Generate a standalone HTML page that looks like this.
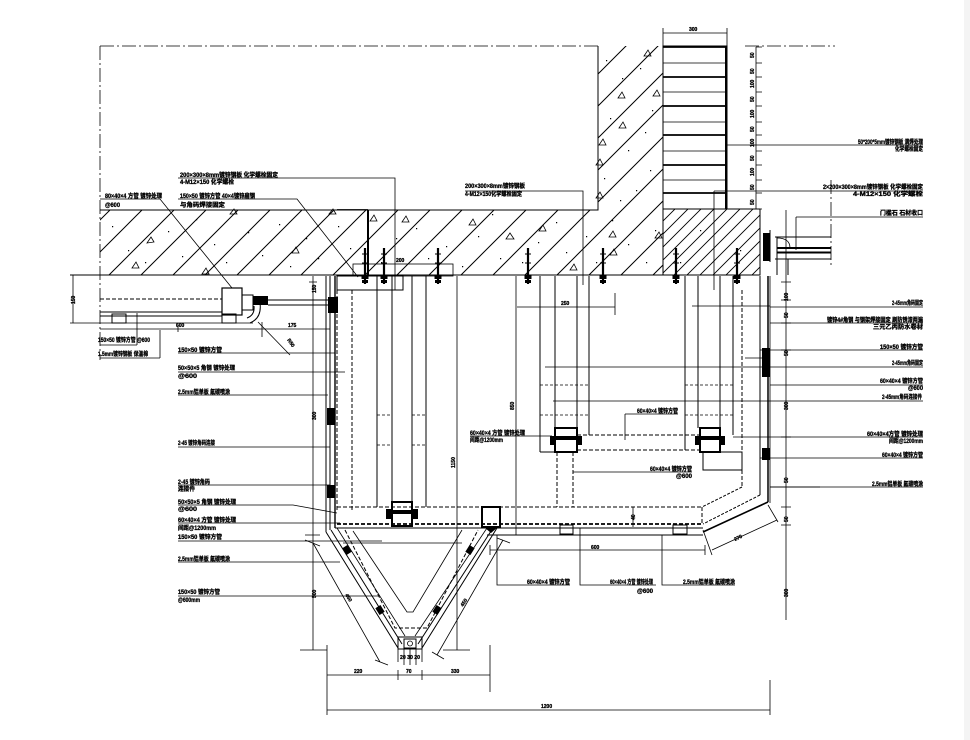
<!DOCTYPE html>
<html><head><meta charset="utf-8">
<style>
html,body{margin:0;padding:0;background:#fff;}
svg{display:block;}
text{font-family:"Liberation Sans","Noto Sans CJK SC",sans-serif;font-size:6px;font-weight:bold;fill:#000;stroke:#000;stroke-width:0.3px;}
.d{font-size:5px;}
</style></head><body>
<svg width="970" height="740" viewBox="0 0 970 740" xmlns="http://www.w3.org/2000/svg">
<defs>
<pattern id="h1" patternUnits="userSpaceOnUse" width="32" height="32"><path d="M-4 4 L4 -4 M0 32 L32 0 M28 36 L36 28" stroke="#000" stroke-width="1" fill="none"/></pattern>
<pattern id="h2" patternUnits="userSpaceOnUse" width="13" height="13"><path d="M-2 2 L2 -2 M0 13 L13 0 M11 15 L15 11" stroke="#000" stroke-width="0.9" fill="none"/></pattern>
<g id="b"><path d="M0 -28 V8" stroke="#000" stroke-width="2.2" fill="none"/><path d="M-3 -22 H3 M-3 -13 H3" stroke="#000" stroke-width="1" fill="none"/><rect x="-3.5" y="-1" width="7" height="4" fill="#000"/><rect x="-3" y="4" width="6" height="3" fill="#000"/></g>
</defs>
<rect x="964" y="0" width="6" height="740" fill="#f4f4f4"/>

<!-- concrete -->
<rect x="100" y="210" width="563" height="65" fill="url(#h1)"/>
<rect x="598" y="46" width="65" height="164" fill="url(#h1)"/>
<rect x="663" y="209" width="97" height="66" fill="url(#h2)"/>
<g fill="none" stroke="#000" stroke-width="1">
<path d="M100 46 H598 M745 46 H835 M100 46 V360 M831 180 V265" stroke-dasharray="14 3 2 3" stroke-width="0.8"/>
<path d="M598 46 V210 H100 M70 275 H760 V209 H663 M663 46 V275"/>
<!-- bricks -->
<rect x="663" y="46" width="64" height="163"/>
<path d="M663 63 H727 M663 92 H727 M663 122 H727 M663 151 H727 M663 180 H727" stroke-width="0.8"/>
<path d="M663 47 H727 M663 77 H727 M663 106 H727 M663 135 H727 M663 165 H727 M663 193 H727" stroke-width="1.8"/>
<path d="M726 47 V209" stroke-width="2"/>
<!-- top dim -->
<path d="M663 33 H727 M663 28 V47 M727 28 V47" stroke-width="0.8"/>
<!-- dim chain -->
<path d="M756 47 V209 M756 47 H762 M756 63 H762 M756 77 H762 M756 92 H762 M756 106 H762 M756 122 H762 M756 135 H762 M756 151 H762 M756 165 H762 M756 180 H762 M756 193 H762 M756 209 H762" stroke-width="0.8"/>
<!-- slab embedded -->
<path d="M368 210 V275" stroke-width="2"/>
<path d="M337 209.5 H368" stroke-width="0.8"/>
<rect x="353" y="264" width="100" height="12" stroke-width="0.8"/>
<!-- triangles -->
<path d="M147 243 l4 -6 l3 5 z M132 268 l4 -6 l3 6 z M202 274 l4 -6 l3 6 z M230 214 l4 -5 l3 5 z M292 253 l4 -6 l3 6 z M329 214 l4 -5 l3 5 z M370 221 l4 -6 l3 6 z M402 222 l4 -6 l3 6 z M469 225 l4 -6 l3 6 z M506 239 l4 -6 l4 6 z M539 231 l4 -6 l3 6 z M570 270 l4 -6 l3 6 z M609 237 l4 -6 l3 6 z M610 255 l4 -6 l3 6 z M644 56 l4 -6 l3 6 z M653 96 l4 -6 l3 6 z M619 128 l4 -6 l3 6 z M599 145 l4 -6 l3 6 z M596 165 l4 -6 l3 6 z M596 198 l4 -6 l3 6 z M655 238 l4 -6 l3 6 z M618 98 l4 -6 l3 6 z" stroke-width="0.8"/>
</g>
<path fill="#000" d="M112 226h1.2v1.2h-1.2zM128 250h1.2v1.2h-1.2zM145 262h1.2v1.2h-1.2zM168 231h1.2v1.2h-1.2zM182 256h1.2v1.2h-1.2zM196 219h1.2v1.2h-1.2zM214 244h1.2v1.2h-1.2zM226 262h1.2v1.2h-1.2zM248 232h1.2v1.2h-1.2zM262 255h1.2v1.2h-1.2zM279 224h1.2v1.2h-1.2zM290 266h1.2v1.2h-1.2zM306 238h1.2v1.2h-1.2zM318 258h1.2v1.2h-1.2zM338 226h1.2v1.2h-1.2zM350 248h1.2v1.2h-1.2zM381 262h1.2v1.2h-1.2zM396 238h1.2v1.2h-1.2zM416 228h1.2v1.2h-1.2zM428 258h1.2v1.2h-1.2zM446 246h1.2v1.2h-1.2zM462 266h1.2v1.2h-1.2zM478 236h1.2v1.2h-1.2zM492 214h1.2v1.2h-1.2zM500 258h1.2v1.2h-1.2zM522 262h1.2v1.2h-1.2zM538 242h1.2v1.2h-1.2zM556 222h1.2v1.2h-1.2zM566 252h1.2v1.2h-1.2zM586 236h1.2v1.2h-1.2zM596 262h1.2v1.2h-1.2zM612 220h1.2v1.2h-1.2zM628 244h1.2v1.2h-1.2zM646 262h1.2v1.2h-1.2zM655 230h1.2v1.2h-1.2zM606 60h1.2v1.2h-1.2zM622 78h1.2v1.2h-1.2zM640 68h1.2v1.2h-1.2zM652 110h1.2v1.2h-1.2zM610 118h1.2v1.2h-1.2zM628 150h1.2v1.2h-1.2zM645 132h1.2v1.2h-1.2zM604 178h1.2v1.2h-1.2zM620 200h1.2v1.2h-1.2zM650 170h1.2v1.2h-1.2zM636 190h1.2v1.2h-1.2zM700 230h1.2v1.2h-1.2zM740 250h1.2v1.2h-1.2zM680 262h1.2v1.2h-1.2z"/>

<!-- bolts -->
<use href="#b" x="365" y="276"/><use href="#b" x="384" y="276"/><use href="#b" x="438" y="276"/><use href="#b" x="528" y="276"/><use href="#b" x="603" y="276"/><use href="#b" x="676" y="276"/><use href="#b" x="737" y="276"/>

<g fill="none" stroke="#000" stroke-width="1">
<!-- left duct -->
<path d="M73 275 V323 M70 323 H253 M70 275 H75" stroke-width="0.8"/>
<path d="M100 299 H222" stroke-dasharray="4 2"/>
<path d="M100 312 H222 M100 316 H222"/>
<rect x="222" y="288" width="20" height="27" stroke-width="1.2"/>
<rect x="242" y="295" width="11" height="15"/>
<path d="M268 300 H328 M268 305 H328"/>
<path d="M260 303 Q262 318 250 323 M254 306 Q255 315 247 318"/>
<rect x="112" y="314" width="14" height="9"/><rect x="222" y="314" width="14" height="9"/>
<path d="M100 329 H330 M262 322 V337 M178 326 V332" stroke-width="0.8"/>
<path d="M258 322 L290 355" stroke-width="0.8"/>
<path d="M137 313 V345 M100 345 H137 M160 330 V358 M100 358 H160" stroke-width="0.8"/>
<!-- top leaders -->
<path d="M178 178 H395 V290 M100 199 H160 L232 288 M178 199 H297 L358 277 M465 191 H583 V285" stroke-width="0.8"/>
<path d="M727 145 H923 M714 191 H923 M714 191 V290 M796 217 H923 M796 217 V250" stroke-width="0.8"/>
<!-- right window frame -->
<path d="M775 237 H831 M775 259 H831 M777 237 V275 M788 259 V275 M770 230 V262"/>
<path d="M777 248 H831 M777 252.5 H831" stroke-width="2"/>
<path d="M777 238 Q790 238 790 248" stroke-width="0.8"/>

<!-- frame -->
<path d="M313 276 V650 M305 535 H320 M300 650 H327 M309 282 H317" stroke-width="0.8"/>
<path d="M326 276 V532 M330 276 V530"/>
<path d="M335 276 V528" stroke-width="1.4"/>
<rect x="337" y="276" width="66" height="14"/>
<path d="M337 290 V510 M352 290 V510" stroke-dasharray="4 2"/>
<path d="M377 276 V507 M392 276 V502 M412 276 V502 M426 276 V507"/>
<path d="M377 415 H392 M412 415 H426 M377 445 H392 M412 445 H426" stroke-dasharray="3 2" stroke-width="0.8"/>
<rect x="392" y="502" width="20" height="24" stroke-width="2"/>
<path d="M457 276 V650 M443 650 H470 M516 276 V535" stroke-width="0.8"/>
<path d="M540 276 V452 M555 276 V428 M577 276 V428 M589 276 V435 M540 452 H555"/>
<rect x="555" y="428" width="22" height="24" stroke-width="2"/>
<path d="M577 435 H700 M577 450 H700 M700 435 V450" stroke-dasharray="4 2"/>
<path d="M557 452 V507 M573 452 V507" stroke-dasharray="4 2"/>
<path d="M685 276 V450 M698 276 V428 M720 276 V428 M733 276 V435"/>
<rect x="700" y="428" width="20" height="24" stroke-width="2"/>
<rect x="703" y="452" width="39" height="18"/>
<path d="M742 290 V487" stroke-dasharray="4 2"/>
<path d="M760 276 V495"/>
<path d="M768 276 V502" stroke-width="1.5"/>
<path d="M540 385 H589 M685 385 H733 M540 415 H589 M685 415 H733" stroke-dasharray="3 2" stroke-width="0.8"/>
<path d="M517 307 H615 M615 293 V315 M692 306 H770 M545 367 H923 M553 401 H923 M745 358 H770" stroke-width="0.8"/>
<path d="M770 307 H923 M770 323 H923 M760 350 H923 M770 385 H923 M733 437 H923 M760 458 H923 M770 487 H923" stroke-width="0.8"/>
<path d="M770 276 V503" stroke-width="0.8"/>
<!-- bottom panel -->
<path d="M337 507 H702 M702 507 V524" stroke-dasharray="4 2"/>
<path d="M337 524 H702" stroke-dasharray="4 2" stroke-width="1.8"/>
<rect x="482" y="507" width="18" height="20" stroke-width="2"/>
<path d="M335 528 H703 M487 535 H703"/>
<rect x="560" y="525" width="13" height="9"/><rect x="673" y="525" width="14" height="9"/>
<path d="M633 507 V527" stroke-width="0.8"/>
<path d="M742 487 L702 507 M760 495 L703 524" stroke-dasharray="3 1.5"/>
<path d="M768 502 L703 532" stroke-width="1.6"/>
<path d="M490 550 H705 M490 545 V555 M705 545 V555 M703 530 L712 555 M768 505 L778 522 M712 550 L777 520" stroke-width="0.8"/>
<!-- right dim -->
<path d="M786 210 V620 M770 487 H820 M781 282 H791 M781 300 H791 M781 323 H791 M781 350 H791 M781 437 H791 M781 507 H791 M781 525 H791" stroke-width="0.8"/>
<!-- V bottom -->
<path d="M326 532 L398 648 M331 530 L402 644 M497 528 L422 648 M493 528 L418 644"/>
<path d="M337 528 L405 636 M487 528 L415 636" stroke-width="0.8"/>
<path d="M345 530 L395 628 L427 628 L478 530" stroke-dasharray="4 2"/>
<path d="M353 531 L407 612 L413 612 L462 530" stroke-width="0.8"/>
<path d="M343 543 H462" stroke-width="0.8"/>
<rect x="398" y="637" width="24" height="12"/>
<rect x="404" y="639" width="12" height="9"/>
<circle cx="410" cy="643.5" r="2.5" stroke-width="0.8"/>
<path d="M398 649 V662 M404 649 V665 M410 649 V665 M416 649 V665 M422 649 V662" stroke-width="0.8"/>
<path d="M313 543 L380 662 M503 540 L437 655 M305 540 L320 546 M375 660 L388 665 M497 538 L510 543 M432 652 L444 659" stroke-width="0.8"/>
<path d="M327 645 V715 M490 645 V692 M770 680 V715 M327 675 H490 M327 710 H770 M398 670 V680 M422 670 V680" stroke-width="0.8"/>
<!-- label leaders -->
<path d="M178 353 H335 M178 372 H345 M178 395 H328 M178 447 H330 M178 485 H330 M178 505 H293 L337 513 M178 523 H340 M178 541 H382 M178 562 H340 M178 596 H380" stroke-width="0.8"/>
<path d="M625 414 H678 M625 414 V440 M470 436 H552 M573 472 H692 M497 535 V585 H570 M580 528 V585 H656 M662 535 V585 H735" stroke-width="0.8"/>
</g>
<!-- black bolt blobs -->
<g fill="#000">
<rect x="328" y="297" width="10" height="16"/>
<rect x="327" y="408" width="8" height="17"/><rect x="327" y="485" width="8" height="13"/>
<rect x="762" y="348" width="8" height="29"/><rect x="762" y="448" width="8" height="12"/>
<rect x="253" y="296" width="15" height="9"/>
<rect x="763" y="233" width="7" height="28"/>
<rect x="386" y="509" width="6" height="10"/><rect x="412" y="509" width="6" height="10"/>
<rect x="550" y="436" width="5" height="9"/><rect x="577" y="436" width="5" height="9"/>
<rect x="695" y="436" width="5" height="9"/><rect x="720" y="436" width="5" height="9"/>
<rect x="392" y="510" width="20" height="4"/><rect x="555" y="436" width="22" height="4"/><rect x="700" y="436" width="20" height="4"/>
<path d="M484 527 h14 l-7 6 z"/>
<rect x="344" y="546" width="6" height="8" transform="rotate(-32 347 550)"/>
<rect x="377" y="606" width="6" height="8" transform="rotate(-32 380 610)"/>
<rect x="434" y="606" width="6" height="8" transform="rotate(32 437 610)"/>
<rect x="467" y="546" width="6" height="8" transform="rotate(32 470 550)"/>
</g>

<!-- dimension texts -->
<text class="d" x="689" y="31">300</text>
<g class="d">
<text class="d" transform="translate(754 58) rotate(-90)">50</text>
<text class="d" transform="translate(754 74) rotate(-90)">50</text>
<text class="d" transform="translate(754 88) rotate(-90)">100</text>
<text class="d" transform="translate(754 102) rotate(-90)">50</text>
<text class="d" transform="translate(754 118) rotate(-90)">100</text>
<text class="d" transform="translate(754 132) rotate(-90)">50</text>
<text class="d" transform="translate(754 147) rotate(-90)">100</text>
<text class="d" transform="translate(754 161) rotate(-90)">50</text>
<text class="d" transform="translate(754 176) rotate(-90)">100</text>
<text class="d" transform="translate(754 190) rotate(-90)">50</text>
<text class="d" transform="translate(754 205) rotate(-90)">50</text>
</g>
<text class="d" transform="translate(75 304) rotate(-90)">150</text>
<text class="d" x="176" y="327">600</text>
<text class="d" x="288" y="327">175</text>
<text class="d" transform="translate(287 340) rotate(55)">R50</text>
<text class="d" transform="translate(316 293) rotate(-90)">150</text>
<text class="d" transform="translate(316 420) rotate(-90)">300</text>
<text class="d" transform="translate(316 598) rotate(-90)">500</text>
<text class="d" x="396" y="262">200</text>
<text class="d" x="561" y="305">250</text>
<text class="d" transform="translate(455 468) rotate(-90)">1150</text>
<text class="d" transform="translate(514 410) rotate(-90)">850</text>
<text class="d" transform="translate(635 520) rotate(-90)">40</text>
<text class="d" x="591" y="549">600</text>
<text class="d" transform="translate(735 541) rotate(-25)">270</text>
<text class="d" transform="translate(788 301) rotate(-90)">100</text>
<text class="d" transform="translate(788 318) rotate(-90)">50</text>
<text class="d" transform="translate(788 356) rotate(-90)">50</text>
<text class="d" transform="translate(788 410) rotate(-90)">300</text>
<text class="d" transform="translate(788 483) rotate(-90)">50</text>
<text class="d" transform="translate(788 522) rotate(-90)">50</text>
<text class="d" transform="translate(788 597) rotate(-90)">300</text>
<text class="d" transform="translate(345 595) rotate(58)">450</text>
<text class="d" transform="translate(463 607) rotate(-58)">450</text>
<text class="d" x="354" y="673">220</text>
<text class="d" x="406" y="673">70</text>
<text class="d" x="451" y="673">330</text>
<text class="d" x="541" y="708">1200</text>
<text class="d" x="400" y="659" textLength="20" lengthAdjust="spacingAndGlyphs">20 30 20</text>

<!-- top labels -->
<text x="180" y="177" textLength="98" lengthAdjust="spacingAndGlyphs">200×300×8mm镀锌钢板 化学螺栓固定</text>
<text x="180" y="184" textLength="54" lengthAdjust="spacingAndGlyphs">4-M12×150 化学螺栓</text>
<text x="105" y="198" textLength="57" lengthAdjust="spacingAndGlyphs">80×40×4 方管  镀锌处理</text>
<text x="105" y="207" textLength="15" lengthAdjust="spacingAndGlyphs">@600</text>
<text x="180" y="198" textLength="75" lengthAdjust="spacingAndGlyphs">150×50 镀锌方管  40×4镀锌扁钢</text>
<text x="180" y="207" textLength="45" lengthAdjust="spacingAndGlyphs">与角码焊接固定</text>
<text x="465" y="188" textLength="60" lengthAdjust="spacingAndGlyphs">200×300×8mm镀锌钢板</text>
<text x="465" y="196" textLength="57" lengthAdjust="spacingAndGlyphs">4-M12×150化学螺栓固定</text>
<text x="858" y="144" textLength="65" lengthAdjust="spacingAndGlyphs">50*200*5mm镀锌钢板 满焊处理</text>
<text x="895" y="151" textLength="28" lengthAdjust="spacingAndGlyphs">化学螺栓固定</text>
<text x="823" y="189" textLength="100" lengthAdjust="spacingAndGlyphs">2×200×300×8mm镀锌钢板 化学螺栓固定</text>
<text x="853" y="196" textLength="70" lengthAdjust="spacingAndGlyphs">4-M12×150 化学螺栓</text>
<text x="880" y="215" textLength="43" lengthAdjust="spacingAndGlyphs">门槛石 石材收口</text>

<!-- right labels -->
<text x="892" y="305" textLength="31" lengthAdjust="spacingAndGlyphs">2-45mm角码固定</text>
<text x="827" y="322" textLength="96" lengthAdjust="spacingAndGlyphs">镀锌4#角钢 与钢架焊接固定 刷防锈漆两遍</text>
<text x="873" y="329" textLength="50" lengthAdjust="spacingAndGlyphs">三元乙丙防水卷材</text>
<text x="880" y="349" textLength="43" lengthAdjust="spacingAndGlyphs">150×50 镀锌方管</text>
<text x="892" y="365" textLength="31" lengthAdjust="spacingAndGlyphs">2-45mm角码固定</text>
<text x="880" y="383" textLength="43" lengthAdjust="spacingAndGlyphs">60×40×4 镀锌方管</text>
<text x="908" y="390" textLength="15" lengthAdjust="spacingAndGlyphs">@600</text>
<text x="882" y="399" textLength="40" lengthAdjust="spacingAndGlyphs">2-45mm角码连接件</text>
<text x="867" y="436" textLength="56" lengthAdjust="spacingAndGlyphs">60×40×4方管 镀锌处理</text>
<text x="889" y="443" textLength="34" lengthAdjust="spacingAndGlyphs">间距@1200mm</text>
<text x="882" y="457" textLength="41" lengthAdjust="spacingAndGlyphs">60×40×4 镀锌方管</text>
<text x="872" y="486" textLength="51" lengthAdjust="spacingAndGlyphs">2.5mm铝单板 氟碳喷涂</text>

<!-- left labels -->
<text x="98" y="342" textLength="52" lengthAdjust="spacingAndGlyphs">150×50 镀锌方管 @600</text>
<text x="98" y="356" textLength="50" lengthAdjust="spacingAndGlyphs">1.5mm镀锌钢板 保温棉</text>
<text x="178" y="352" textLength="44" lengthAdjust="spacingAndGlyphs">150×50 镀锌方管</text>
<text x="178" y="370" textLength="57" lengthAdjust="spacingAndGlyphs">50×50×5 角钢  镀锌处理</text>
<text x="178" y="378" textLength="19" lengthAdjust="spacingAndGlyphs">@600</text>
<text x="178" y="394" textLength="52" lengthAdjust="spacingAndGlyphs">2.5mm铝单板 氟碳喷涂</text>
<text x="178" y="445" textLength="37" lengthAdjust="spacingAndGlyphs">2-45 镀锌角码连接</text>
<text x="178" y="484" textLength="32" lengthAdjust="spacingAndGlyphs">2-45 镀锌角码</text>
<text x="178" y="491" textLength="17" lengthAdjust="spacingAndGlyphs">连接件</text>
<text x="178" y="504" textLength="58" lengthAdjust="spacingAndGlyphs">50×50×5 角钢  镀锌处理</text>
<text x="178" y="511" textLength="19" lengthAdjust="spacingAndGlyphs">@600</text>
<text x="178" y="522" textLength="58" lengthAdjust="spacingAndGlyphs">60×40×4 方管  镀锌处理</text>
<text x="178" y="530" textLength="38" lengthAdjust="spacingAndGlyphs">间距@1200mm</text>
<text x="178" y="539" textLength="44" lengthAdjust="spacingAndGlyphs">150×50 镀锌方管</text>
<text x="178" y="561" textLength="52" lengthAdjust="spacingAndGlyphs">2.5mm铝单板 氟碳喷涂</text>
<text x="178" y="594" textLength="42" lengthAdjust="spacingAndGlyphs">150×50 镀锌方管</text>
<text x="178" y="602" textLength="22" lengthAdjust="spacingAndGlyphs">@600mm</text>

<!-- center labels -->
<text x="637" y="413" textLength="41" lengthAdjust="spacingAndGlyphs">60×40×4 镀锌方管</text>
<text x="470" y="435" textLength="55" lengthAdjust="spacingAndGlyphs">60×40×4 方管  镀锌处理</text>
<text x="470" y="442" textLength="33" lengthAdjust="spacingAndGlyphs">间距@1200mm</text>
<text x="650" y="471" textLength="42" lengthAdjust="spacingAndGlyphs">60×40×4 镀锌方管</text>
<text x="676" y="478" textLength="16" lengthAdjust="spacingAndGlyphs">@600</text>
<text x="527" y="584" textLength="43" lengthAdjust="spacingAndGlyphs">60×40×4 镀锌方管</text>
<text x="610" y="584" textLength="43" lengthAdjust="spacingAndGlyphs">60×40×4 方管 镀锌处理</text>
<text x="637" y="593" textLength="16" lengthAdjust="spacingAndGlyphs">@600</text>
<text x="683" y="584" textLength="52" lengthAdjust="spacingAndGlyphs">2.5mm铝单板 氟碳喷涂</text>
</svg>
</body></html>
